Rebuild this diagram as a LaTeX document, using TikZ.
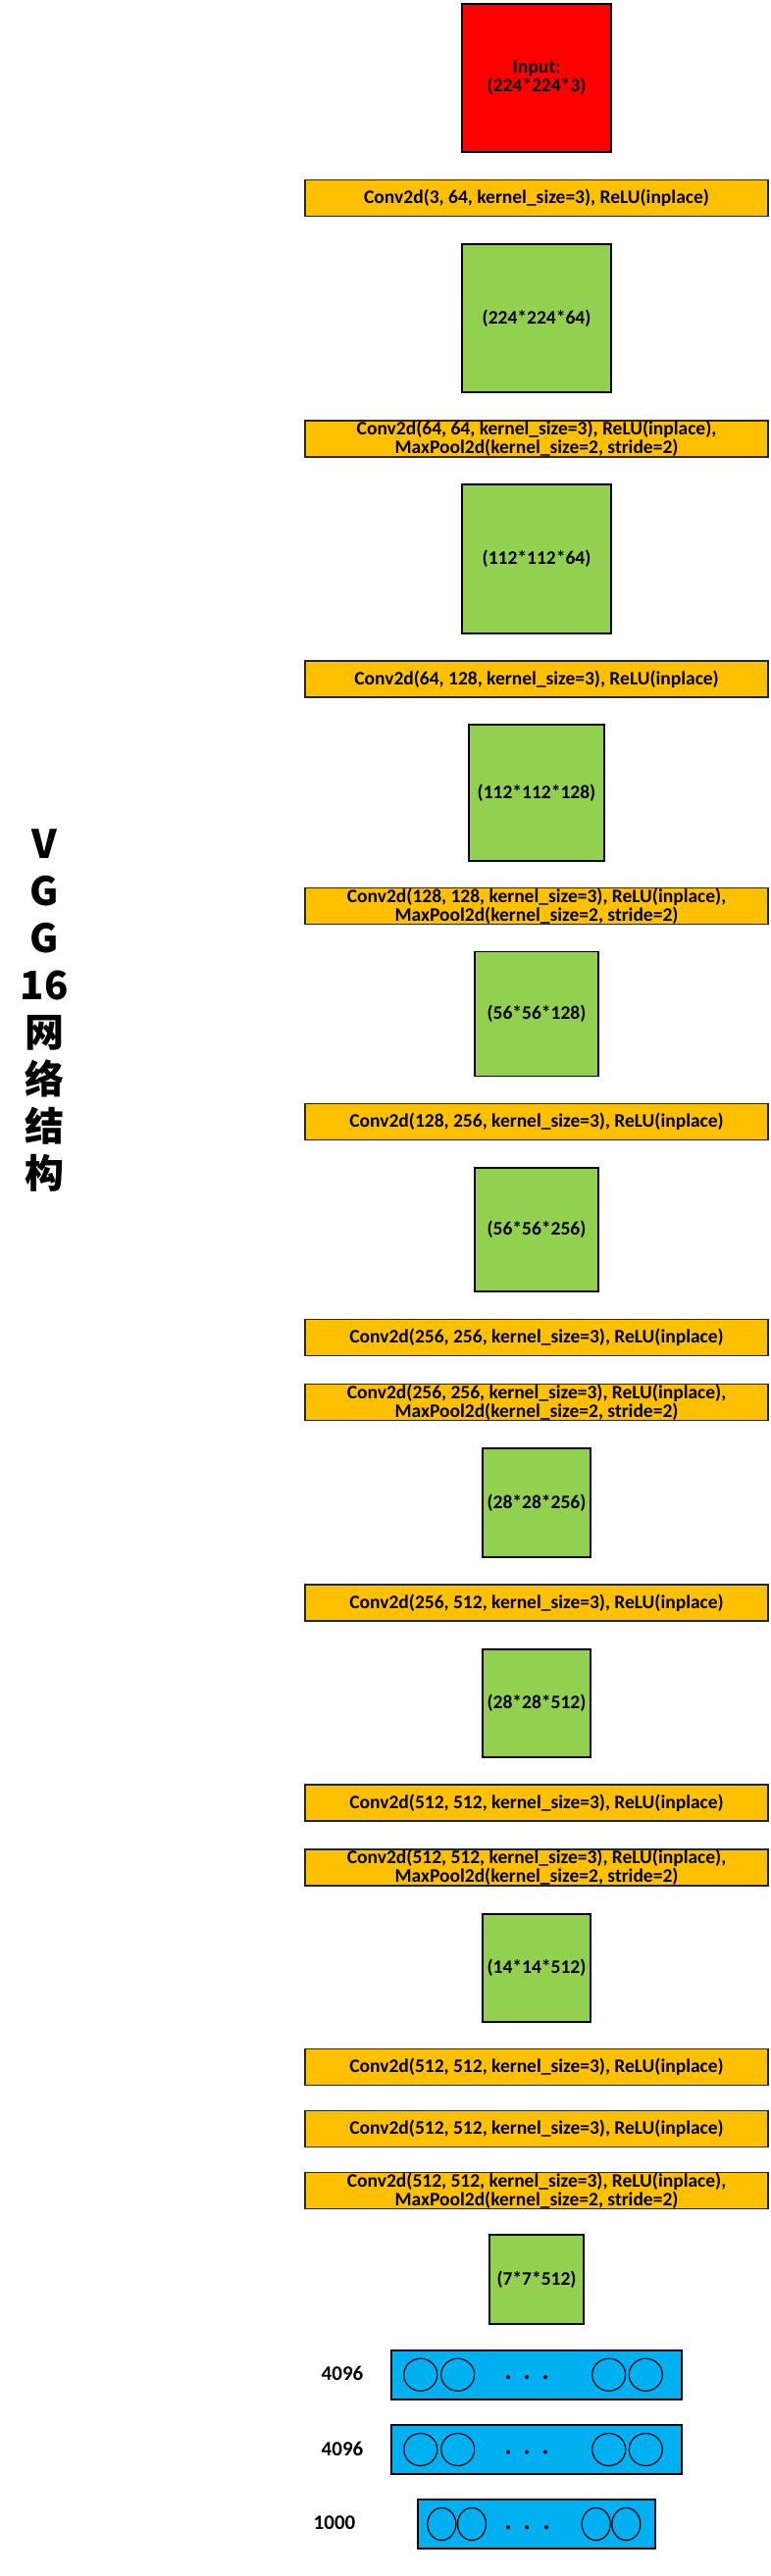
\documentclass[tikz,border=0pt]{standalone}
\usepackage{fontspec}
\usetikzlibrary{shapes.geometric}
\setmainfont{Carlito}
\newfontfamily\cjk{Noto Sans CJK SC}
\definecolor{barc}{HTML}{FFC000}
\definecolor{grnc}{HTML}{92D050}
\definecolor{redc}{HTML}{FF0000}
\definecolor{bluc}{HTML}{00B0F0}
\begin{document}
\begin{tikzpicture}[x=1pt,y=-1pt,
  bar/.style={draw=black!85,line width=1.1pt,fill=barc,minimum width=472pt,minimum height=37pt,inner sep=0pt,align=center,font=\fontsize{19.5}{19}\selectfont\bfseries},
  fmap/.style={draw=black,line width=1.5pt,fill=grnc,inner sep=0pt,align=center,font=\fontsize{19.5}{19}\selectfont\bfseries},
  fc/.style={draw=black,line width=1.4pt,fill=bluc,minimum height=50pt,inner sep=0pt},
  neuron/.style={draw=black,line width=1.2pt,ellipse,inner sep=0pt},
  dotc/.style={fill=black,circle,inner sep=0pt,minimum size=4pt},
  fclab/.style={font=\fontsize{21}{23}\selectfont\bfseries,inner sep=0pt}]
\useasboundingbox (0,0) rectangle (785,2627);
\fill[white] (0,0) rectangle (785,2627);

% title
\node[font=\cjk\fontsize{40}{48}\selectfont\bfseries,align=center,inner sep=0pt] (title) at (45,1031) {V\\G\\G\\16\\网\\络\\结\\构};

% feature maps
\node[fmap,fill=redc,minimum width=152pt,minimum height=151pt] (in) at (547,79.5) {Input:\\(224*224*3)};
\node[bar] (b1) at (547,202) {Conv2d(3, 64, kernel\_size=3), ReLU(inplace)};
\node[fmap,minimum width=152pt,minimum height=151pt] (g1) at (547,324.5) {(224*224*64)};
\node[bar] (b2) at (547,447.5) {Conv2d(64, 64, kernel\_size=3), ReLU(inplace),\\MaxPool2d(kernel\_size=2, stride=2)};
\node[fmap,minimum width=152pt,minimum height=152pt] (g2) at (547,570) {(112*112*64)};
\node[bar] (b3) at (547,692.5) {Conv2d(64, 128, kernel\_size=3), ReLU(inplace)};
\node[fmap,minimum width=138pt,minimum height=139pt] (g3) at (547,808.5) {(112*112*128)};
\node[bar] (b4) at (547,924) {Conv2d(128, 128, kernel\_size=3), ReLU(inplace),\\MaxPool2d(kernel\_size=2, stride=2)};
\node[fmap,minimum width=126pt,minimum height=127pt] (g4) at (547,1034) {(56*56*128)};
\node[bar] (b5) at (547,1144) {Conv2d(128, 256, kernel\_size=3), ReLU(inplace)};
\node[fmap,minimum width=126pt,minimum height=126pt] (g5) at (547,1254) {(56*56*256)};
\node[bar] (b6) at (547,1364) {Conv2d(256, 256, kernel\_size=3), ReLU(inplace)};
\node[bar] (b7) at (547,1430) {Conv2d(256, 256, kernel\_size=3), ReLU(inplace),\\MaxPool2d(kernel\_size=2, stride=2)};
\node[fmap,minimum width=110pt,minimum height=111pt] (g6) at (547,1532.5) {(28*28*256)};
\node[bar] (b8) at (547,1634.5) {Conv2d(256, 512, kernel\_size=3), ReLU(inplace)};
\node[fmap,minimum width=110pt,minimum height=110pt] (g7) at (547,1737) {(28*28*512)};
\node[bar] (b9) at (547,1838.5) {Conv2d(512, 512, kernel\_size=3), ReLU(inplace)};
\node[bar] (b10) at (547,1904.5) {Conv2d(512, 512, kernel\_size=3), ReLU(inplace),\\MaxPool2d(kernel\_size=2, stride=2)};
\node[fmap,minimum width=110pt,minimum height=110pt] (g8) at (547,2007) {(14*14*512)};
\node[bar] (b11) at (547,2108) {Conv2d(512, 512, kernel\_size=3), ReLU(inplace)};
\node[bar] (b12) at (547,2171) {Conv2d(512, 512, kernel\_size=3), ReLU(inplace)};
\node[bar] (b13) at (547,2234) {Conv2d(512, 512, kernel\_size=3), ReLU(inplace),\\MaxPool2d(kernel\_size=2, stride=2)};
\node[fmap,minimum width=96pt,minimum height=91pt] (g9) at (547,2324.5) {(7*7*512)};

% fully connected layers
\node[fc,minimum width=296pt] (fc1) at (547,2422) {};
\node[fc,minimum width=296pt] (fc2) at (547,2498) {};
\node[fc,minimum width=242pt] (fc3) at (547,2574) {};

\foreach \r/\yy in {1/2421.7,2/2498.0}{
  \foreach \k/\xx in {1/428.7,2/466.7,3/620.7,4/658.3}{
    \node[neuron,minimum width=34pt,minimum height=33pt] (n\r\k) at (\xx,\yy) {};
  }
  \foreach \k/\xx in {1/518,2/537,3/556}{
    \node[dotc] (d\r\k) at (\xx,\yy+2.5) {};
  }
}
\foreach \k/\xx in {1/450.3,2/481,3/607.7,4/638.3}{
  \node[neuron,minimum width=29pt,minimum height=33pt] (n3\k) at (\xx,2574) {};
}
\foreach \k/\xx in {1/518,2/537,3/557}{
  \node[dotc] (d3\k) at (\xx,2577.3) {};
}

\node[fclab] (l1) at (349,2420) {4096};
\node[fclab] (l2) at (349,2497) {4096};
\node[fclab] (l3) at (341,2573) {1000};
\end{tikzpicture}
\end{document}
